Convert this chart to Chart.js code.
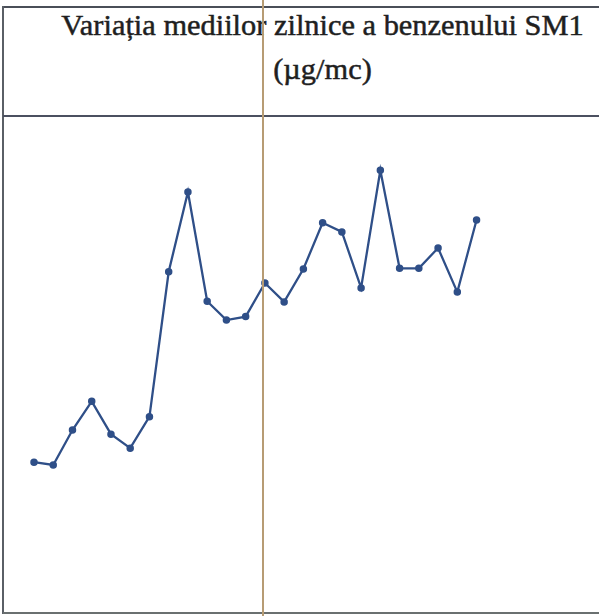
<!DOCTYPE html>
<html>
<head>
<meta charset="utf-8">
<script src="https://cdn.jsdelivr.net/npm/chart.js@4.4.1/dist/chart.umd.min.js"></script>
<style>
  html, body { margin: 0; padding: 0; background: #fff; }
  #wrap { position: relative; width: 599px; height: 616px; overflow: hidden; background: #fff; }
  #frameTop { position: absolute; left: 3px; top: 6px; width: 596px; height: 2px; background: #4a4f58; }
  #frameLeft { position: absolute; left: 2px; top: 6px; width: 2px; height: 608px; background: #5a5f66; }
  #frameMid { position: absolute; left: 3px; top: 115px; width: 596px; height: 2px; background: #4b5060; }
  #frameBottom { position: absolute; left: 3px; top: 612px; width: 596px; height: 2px; background: #6a7070; }
  #fold { position: absolute; left: 262px; top: 0; width: 2px; height: 616px; background: #b79c74; z-index: 5; }
  #title { position: absolute; left: 30px; width: 585px; top: 3px; text-align: center;
           font-family: "Liberation Serif", "Times New Roman", serif; font-size: 30.4px; color: #1f1f1f;
           -webkit-text-stroke: 0.5px #1f1f1f; line-height: 44px; }
  #chartBox { position: absolute; left: 3px; top: 117px; width: 596px; height: 496px; }
</style>
</head>
<body>
<div id="wrap">
  <div id="title">Variația mediilor zilnice a benzenului SM1<br>(µg/mc)</div>
  <div id="frameTop"></div>
  <div id="frameLeft"></div>
  <div id="frameMid"></div>
  <div id="frameBottom"></div>
  <div id="chartBox"><canvas id="c" width="596" height="496"></canvas></div>
  <div id="fold"></div>
</div>
<script>
// Categories: days of June
const days = ["Jun 1","Jun 2","Jun 3","Jun 4","Jun 5","Jun 6","Jun 7","Jun 8","Jun 9","Jun 10",
  "Jun 11","Jun 12","Jun 13","Jun 14","Jun 15","Jun 16","Jun 17","Jun 18","Jun 19","Jun 20",
  "Jun 21","Jun 22","Jun 23","Jun 24","Jun 25","Jun 26","Jun 27","Jun 28","Jun 29","Jun 30"];
// Daily benzene averages SM1 (µg/mc)
const benzen = [0.54, 0.50, 1.00, 1.41, 0.94, 0.74, 1.19, 3.26, 4.40, 2.84,
  2.57, 2.62, 3.10, 2.83, 3.30, 3.96, 3.83, 3.03, 4.71, 3.31,
  3.31, 3.60, 2.97, 4.00, null, null, null, null, null, null];
const seriesName = "SM-1 - BTX 2000 - Benzen - Valori zilnice";

new Chart(document.getElementById('c'), {
  type: 'line',
  data: {
    labels: days,
    datasets: [{
      label: seriesName,
      data: benzen,
      borderColor: '#2f4f88',
      backgroundColor: '#2f4f88',
      borderWidth: 2.3,
      pointRadius: 2.6,
      pointBackgroundColor: '#2f4f88',
      pointBorderColor: '#2f4f88',
      tension: 0,
      spanGaps: false
    }]
  },
  options: {
    responsive: false,
    animation: false,
    layout: { padding: { left: 31, right: 7, top: 33, bottom: 113 } },
    plugins: { legend: { display: false }, title: { display: false }, tooltip: { enabled: false } },
    scales: {
      x: { display: false, offset: false },
      y: { display: false, min: 0, max: 5 }
    }
  }
});
</script>
</body>
</html>
